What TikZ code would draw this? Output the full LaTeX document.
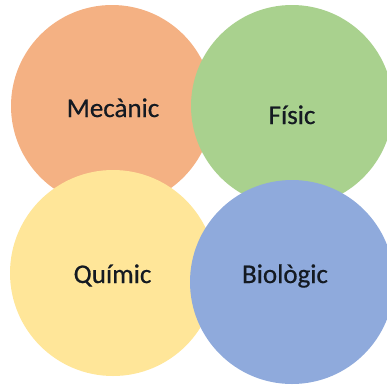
\documentclass[tikz,border=0pt]{standalone}
\usepackage{fontspec}
\setmainfont{Carlito}[FakeBold=0.6]
\definecolor{cOrange}{HTML}{F4B183}
\definecolor{cGreen}{HTML}{A9D18E}
\definecolor{cYellow}{HTML}{FFE699}
\definecolor{cBlue}{HTML}{8FAADC}
\definecolor{cText}{HTML}{141A22}
\begin{document}
\begin{tikzpicture}[x=1pt,y=-1pt,
  disc/.style={circle,inner sep=0pt,draw=none},
  lbl/.style={anchor=base,inner sep=0pt,font=\fontsize{27}{31}\selectfont,text=cText}]
\useasboundingbox (0,0) rectangle (387,386);
\node[disc,fill=cOrange,minimum size=202pt] (mec) at (112,106) {};
\node[disc,fill=cGreen,minimum size=202pt] (fis) at (292,106) {};
\node[disc,fill=cYellow,minimum size=206pt] (qui) at (113,273) {};
\node[disc,fill=cBlue,minimum size=204pt] (bio) at (292,282) {};
\node[lbl] (tmec) at (113,117) {Mecànic};
\node[lbl] (tfis) at (292,124) {Físic};
\node[lbl] (tqui) at (112.5,283) {Químic};
\node[lbl] (tbio) at (285,283) {Biològic};
\end{tikzpicture}
\end{document}
